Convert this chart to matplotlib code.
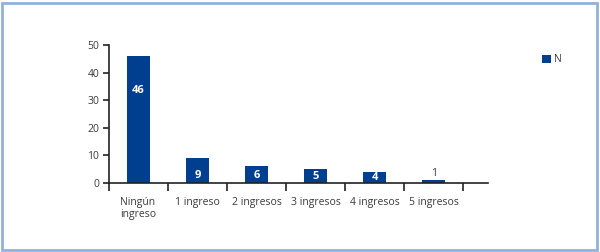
import matplotlib
matplotlib.use("Agg")
import matplotlib.pyplot as plt
from matplotlib.patches import Rectangle, Patch
import numpy as np

categories = ["Ningún\ningreso", "1 ingreso", "2 ingresos", "3 ingresos", "4 ingresos", "5 ingresos"]
values = [46, 9, 6, 5, 4, 1]
yticks = [0, 10, 20, 30, 40, 50]
series_name = "N"

plt.rcParams['font.family'] = ['Open Sans', 'DejaVu Sans']
bar_color = "#003f8f"
txt = "#3a3a3a"

fig = plt.figure(figsize=(6, 2.52), dpi=100)
ax = fig.add_axes([109/600, 69/252, (488-109)/600, (183-45)/252])

x = np.arange(len(categories)) + 0.5
ax.bar(x, values, width=0.4, color=bar_color, zorder=2)

for xi, v in zip(x, values):
    if v <= 2:
        ax.text(xi, v + 0.6, str(v), ha='center', va='bottom', fontsize=7.5, color=txt)
    else:
        yy = v - 12.5 if v > 20 else min(v / 2, 2.8)
        ax.text(xi, yy, str(v), ha='center', va='center', fontsize=8,
                color='white', fontweight='bold', zorder=3)

ax.set_xlim(0, 6.42)
ax.set_ylim(0, 50)
ax.set_yticks(yticks)
ax.set_yticklabels([str(t) for t in yticks], fontsize=7.5, color=txt)
ax.set_xticks(np.arange(0, len(categories) + 1))
ax.set_xticklabels([])
ax.set_xticks(x, minor=True)
ax.set_xticklabels(categories, minor=True, fontsize=7.5, color=txt, multialignment='left')
ax.tick_params(axis='x', which='major', direction='out', length=6, width=1.2, color='#222222')
ax.tick_params(axis='x', which='minor', length=0, pad=10)
ax.tick_params(axis='y', direction='out', length=4, width=1.2, color='#222222', pad=3)

for s in ['top', 'right']:
    ax.spines[s].set_visible(False)
for s in ['left', 'bottom']:
    ax.spines[s].set_color('#222222')
    ax.spines[s].set_linewidth(1.2)

leg = fig.legend(handles=[Patch(facecolor=bar_color, label=series_name)],
                 loc='center left', bbox_to_anchor=(533/600, 1 - 60/252),
                 frameon=False, fontsize=7.5, handlelength=0.8, handleheight=0.8,
                 handletextpad=0.3, labelcolor=txt)

fig.patches.append(Rectangle((2/600, 2/252), 595/600, 247/252, transform=fig.transFigure,
                             fill=False, edgecolor='#92b1da', linewidth=2))

fig.savefig("out.png", dpi=100)
